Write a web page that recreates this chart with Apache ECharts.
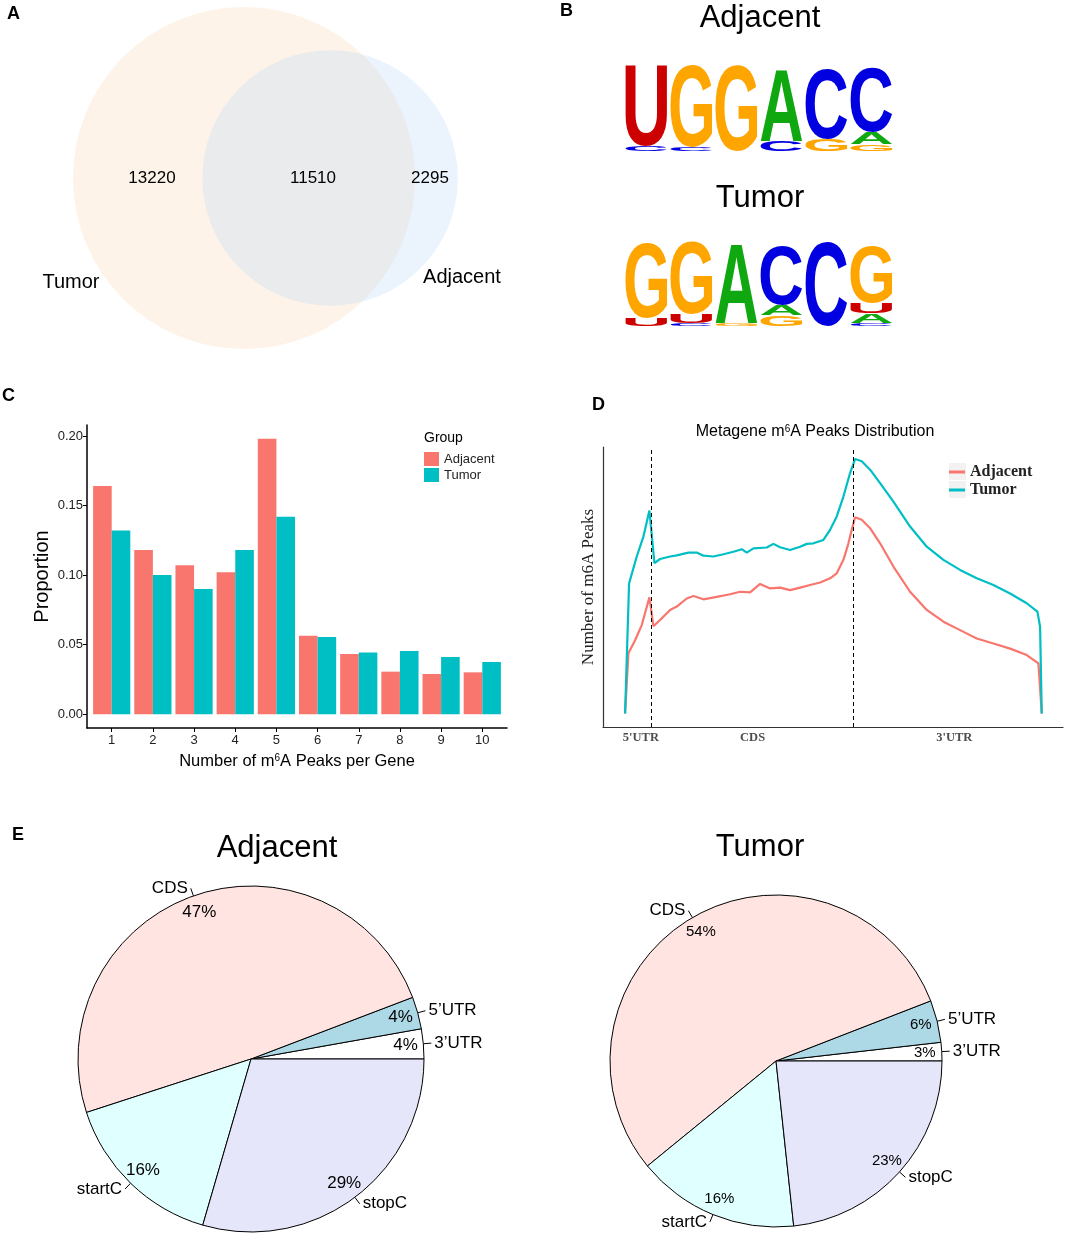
<!DOCTYPE html>
<html lang="en">
  <head>
    <meta charset="UTF-8" />
    <title>m6A peaks: Tumor vs Adjacent</title>
    <style>
      html, body { margin: 0; padding: 0; background: #fff; }
      #chart { width: 1065px; height: 1236px; }
    </style>
  </head>
  <body>
    <div id="chart"></div>

    <script src="https://cdn.jsdelivr.net/npm/echarts@6/dist/echarts.min.js"></script>
    <script>
      // ---- A: Venn counts ----
      const vennNames = ["Tumor", "Adjacent"];
      const tumorOnly = 13220;
      const bothSets = 11510;
      const adjacentOnly = 2295;

      // ---- B: motif logos, each position stacked bottom -> top [letter, height in bits] ----
      const adjacentMotif = [
        [["C", 0.10], ["U", 1.78]],
        [["C", 0.08], ["G", 1.81]],
        [["G", 1.91]],
        [["C", 0.22], ["A", 1.59]],
        [["G", 0.26], ["C", 1.56]],
        [["G", 0.15], ["A", 0.27], ["C", 1.44]]
      ];
      const tumorMotif = [
        [["U", 0.17], ["G", 1.68]],
        [["C", 0.06], ["U", 0.21], ["G", 1.60]],
        [["G", 0.06], ["A", 1.76]],
        [["G", 0.24], ["A", 0.24], ["C", 1.33]],
        [["C", 1.87]],
        [["C", 0.07], ["A", 0.21], ["U", 0.24], ["G", 1.26]]
      ];

      // ---- C: proportion of genes by number of peaks ----
      const peakCounts = [1, 2, 3, 4, 5, 6, 7, 8, 9, 10];
      const adjacentProp = [0.164, 0.118, 0.107, 0.102, 0.198, 0.0565, 0.0433, 0.0306, 0.0289, 0.0301];
      const tumorProp = [0.132, 0.100, 0.090, 0.118, 0.142, 0.0555, 0.0443, 0.0455, 0.0411, 0.0376];
      const proportionTicks = [0, 0.05, 0.1, 0.15, 0.2];

      // ---- D: metagene profile, x = relative position along transcript (0-100) ----
      const regionNames = ["5'UTR", "CDS", "3'UTR"];
      const regionLabelAt = [3.8, 30.6, 79];
      const regionBreaks = [6.24, 54.8];
      const tumorProfile = [
        [0, 4.8], [0.96, 51.3], [2.8, 60.9], [4.4, 68], [5.84, 77.3], [7.04, 58.5], [8.4, 60],
        [10.8, 60.9], [12.4, 61.3], [15.2, 62.3], [17.2, 62.3], [18.8, 61.2], [21.2, 60.9],
        [23.6, 61.7], [26, 62.6], [28, 63.5], [29.2, 62.3], [30.8, 63.8], [34, 64.1],
        [35.6, 65.4], [37.2, 64.2], [39.6, 63.2], [42, 64.4], [43.6, 65.4], [45.2, 65.6],
        [47.6, 66.8], [49.2, 70.4], [50.8, 75.2], [52.4, 82.3], [54, 90.7], [55.2, 95.7],
        [56.8, 94.9], [58.8, 91.9], [61.2, 87.1], [64.4, 80.5], [68.4, 71.6], [72.4, 64.4],
        [76.4, 59.7], [80.4, 56.1], [84.4, 53.1], [88.4, 50.7], [92.4, 47.7], [96.4, 44.2],
        [98.96, 41.2], [99.6, 35.8], [100, 4.8]
      ];
      const adjacentProfile = [
        [0, 4.8], [0.8, 26.3], [2.4, 31], [4, 36.4], [5.84, 46.3], [6.8, 36], [8.4, 38.2],
        [10.8, 41.8], [12.4, 43], [14.8, 45.9], [16.4, 46.8], [18.8, 45.6], [22, 46.5],
        [25.2, 47.4], [27.6, 48.3], [30, 48.1], [32.4, 51.1], [34.8, 49.5], [37.2, 49.8],
        [39.6, 48.9], [42, 49.8], [44.4, 50.7], [46.8, 51.6], [49.2, 53.1], [50.8, 54.9],
        [52.4, 59.7], [53.6, 65.6], [54.4, 70.4], [55.2, 74.9], [56.8, 74], [58.8, 71],
        [61.2, 65.6], [64.4, 57.3], [68.4, 48.3], [72.4, 41.8], [76.4, 37.6], [80.4, 34.6],
        [84.4, 31.6], [88.4, 29.8], [92.4, 28], [96.4, 25.7], [99.2, 22.7], [100, 4.8]
      ];

      // ---- E: peak location pies (R pie order, counter-clockwise from 3 o'clock) ----
      const pieNames = ["3’UTR", "5’UTR", "CDS", "startC", "stopC"];
      const pieColors = ["#ffffff", "#add8e6", "#ffe4e1", "#e0ffff", "#e6e6fa"];
      const adjacentShare = [2.8, 3.0, 49.2, 15.5, 29.5];
      const tumorShare = [1.8, 4.1, 55.0, 15.8, 23.3];
      const adjacentPctText = ["4%", "4%", "47%", "16%", "29%"];
      const tumorPctText = ["3%", "6%", "54%", "16%", "23%"];

      const SANS = "Liberation Sans";
      const SERIF = "Liberation Serif";
      const RED = "#F8766D";
      const TEAL = "#00BFC4";

      // Venn: area-proportional circles, center distance found by bisection
      function lensArea(r1, r2, d) {
        if (d >= r1 + r2) return 0;
        if (d <= Math.abs(r1 - r2)) return Math.PI * Math.min(r1, r2) ** 2;
        const a = r1 * r1 * Math.acos((d * d + r1 * r1 - r2 * r2) / (2 * d * r1));
        const b = r2 * r2 * Math.acos((d * d + r2 * r2 - r1 * r1) / (2 * d * r2));
        const c = 0.5 * Math.sqrt((-d + r1 + r2) * (d + r1 - r2) * (d - r1 + r2) * (d + r1 + r2));
        return a + b - c;
      }
      const tumorR = 171;
      const pxPerCount = (Math.PI * tumorR * tumorR) / (tumorOnly + bothSets);
      const adjacentR = Math.sqrt(((adjacentOnly + bothSets) * pxPerCount) / Math.PI);
      const targetLens = bothSets * pxPerCount;
      let lo = Math.abs(tumorR - adjacentR), hi = tumorR + adjacentR;
      for (let i = 0; i < 60; i++) {
        const mid = (lo + hi) / 2;
        if (lensArea(tumorR, adjacentR, mid) > targetLens) lo = mid; else hi = mid;
      }
      const centerGap = (lo + hi) / 2;
      const tumorCenter = [244, 178];

      // logo glyph boxes, measured on the same font the chart draws with
      const LETTERS = ["A", "C", "G", "U"];
      const LETTER_COLORS = { A: "#10a810", C: "#0000e0", G: "#ffa500", U: "#cc0000" };
      const measureCtx = document.createElement("canvas").getContext("2d");
      measureCtx.font = "bold 100px " + SANS;
      measureCtx.textBaseline = "middle";
      measureCtx.textAlign = "left";
      const glyph = {};
      LETTERS.forEach((ch) => {
        const m = measureCtx.measureText(ch);
        glyph[ch] = {
          l: m.actualBoundingBoxLeft, r: m.actualBoundingBoxRight,
          a: m.actualBoundingBoxAscent, d: m.actualBoundingBoxDescent
        };
      });

      function stackMotif(motif) {
        const out = [];
        motif.forEach((column, pos) => {
          let base = 0;
          column.forEach(([ch, h]) => {
            out.push([pos, base, base + h, LETTERS.indexOf(ch)]);
            base += h;
          });
        });
        return out;
      }

      function renderLetter(params, api) {
        const pos = api.value(0);
        const ch = LETTERS[api.value(3)];
        const bottom = api.coord([pos, api.value(1)]);
        const top = api.coord([pos, api.value(2)]);
        const w = api.size([1, 0])[0] * 0.93;
        const g = glyph[ch];
        const sx = w / (g.l + g.r);
        const sy = (bottom[1] - top[1]) / (g.a + g.d);
        return {
          type: "text",
          x: bottom[0] - w / 2 + sx * g.l,
          y: top[1] + sy * g.a,
          scaleX: sx,
          scaleY: sy,
          style: {
            text: ch, x: 0, y: 0, fill: LETTER_COLORS[ch],
            fontSize: 100, fontWeight: "bold", fontFamily: SANS,
            align: "left", verticalAlign: "middle"
          }
        };
      }

      function txt(text, x, y, size, extra) {
        return {
          type: "text", x: x, y: y, z: 100, silent: true,
          style: Object.assign({
            text: text, fontSize: size, fontFamily: SANS, fill: "#000",
            align: "center", verticalAlign: "middle",
            textAlign: "center", textVerticalAlign: "middle"
          }, extra || {})
        };
      }
      const leftTxt = { align: "left", textAlign: "left" };
      const boldLeft = { align: "left", textAlign: "left", fontWeight: "bold" };

      const pieBase = {
        type: "pie", startAngle: 0, clockwise: false, animation: false,
        emphasis: { disabled: true }, avoidLabelOverlap: false
      };
      function pieSeries(center, r, share, pctText, pctSize) {
        const data = pieNames.map((n, i) => ({ name: n, value: share[i], itemStyle: { color: pieColors[i] } }));
        return [
          Object.assign({}, pieBase, {
            center: center, radius: [0, r], data: data,
            itemStyle: { borderColor: "#000", borderWidth: 1 },
            label: { show: true, position: "outside", formatter: "{b}", fontSize: 17, color: "#000", fontFamily: SANS, distanceToLabelLine: 3 },
            labelLine: { show: true, length: 8, length2: 0, lineStyle: { color: "#000", width: 1 } }
          }),
          Object.assign({}, pieBase, {
            center: center, radius: [r * 0.76, r], silent: true,
            data: pieNames.map((n, i) => ({ name: n, value: share[i] })),
            itemStyle: { color: "rgba(0,0,0,0)", borderWidth: 0 },
            label: { show: true, position: "inside", formatter: (p) => pctText[p.dataIndex], fontSize: pctSize, color: "#000", fontFamily: SANS },
            labelLine: { show: false }
          })
        ];
      }

      const chart = echarts.init(document.getElementById("chart"));
      const option = {
        animation: false,
        backgroundColor: "#fff",
        textStyle: { fontFamily: SANS },
        grid: [
          { left: 0, top: 0, width: 540, height: 360 },
          { left: 624, top: 61, width: 270, height: 90 },
          { left: 624, top: 236, width: 270, height: 90 },
          { left: 87, top: 425, width: 420, height: 303 },
          { left: 603, top: 447, width: 460, height: 280 }
        ],
        xAxis: [
          { gridIndex: 0, type: "value", min: 0, max: 540, show: false },
          { gridIndex: 1, type: "category", data: adjacentMotif.map((c, i) => i + 1), show: false },
          { gridIndex: 2, type: "category", data: tumorMotif.map((c, i) => i + 1), show: false },
          {
            gridIndex: 3, type: "value", min: 0.4, max: 10.6,
            splitLine: { show: false },
            axisLine: { show: true, onZero: false, lineStyle: { color: "#000", width: 1.5 } },
            axisTick: { show: true, length: 4, customValues: peakCounts, lineStyle: { color: "#000" } },
            axisLabel: { customValues: peakCounts, fontSize: 13, color: "#222", margin: 6 },
            name: "Number of m{sup|6}A Peaks per Gene",
            nameLocation: "middle", nameGap: 25,
            nameTextStyle: { fontSize: 16.5, color: "#000", rich: { sup: { fontSize: 10, verticalAlign: "top" } } }
          },
          {
            gridIndex: 4, type: "value", min: -5.3, max: 105.1,
            splitLine: { show: false },
            axisLine: { show: true, onZero: false, lineStyle: { color: "#333", width: 1.2 } },
            axisTick: { show: false },
            axisLabel: {
              customValues: regionLabelAt, margin: 4,
              formatter: (v) => regionNames[regionLabelAt.indexOf(v)],
              fontFamily: SERIF, fontWeight: "bold", fontSize: 12.5, color: "#4d4d4d"
            }
          }
        ],
        yAxis: [
          { gridIndex: 0, type: "value", min: 0, max: 360, inverse: true, show: false },
          { gridIndex: 1, type: "value", min: 0, max: 2, show: false },
          { gridIndex: 2, type: "value", min: 0, max: 2, show: false },
          {
            gridIndex: 3, type: "value", min: -0.0099, max: 0.2079,
            splitLine: { show: false },
            axisLine: { show: true, onZero: false, lineStyle: { color: "#000", width: 1.5 } },
            axisTick: { show: true, length: 4, customValues: proportionTicks, lineStyle: { color: "#000" } },
            axisLabel: { customValues: proportionTicks, formatter: (v) => v.toFixed(2), fontSize: 13, color: "#222", margin: 4 },
            name: "Proportion", nameLocation: "middle", nameRotate: 90, nameGap: 35,
            nameTextStyle: { fontSize: 20, color: "#000" }
          },
          {
            gridIndex: 4, type: "value", min: 0, max: 100,
            splitLine: { show: false },
            axisLine: { show: true, onZero: false, lineStyle: { color: "#333", width: 1.2 } },
            axisTick: { show: false },
            axisLabel: { show: false },
            name: "Number of m6A Peaks", nameLocation: "middle", nameRotate: 90, nameGap: 6,
            nameTextStyle: { fontFamily: SERIF, fontSize: 17, color: "#222" }
          }
        ],
        legend: [
          {
            data: ["Adjacent", "Tumor"], orient: "vertical", left: 424, top: 452, padding: 0,
            icon: "rect", itemWidth: 15, itemHeight: 14, itemGap: 2, selectedMode: false,
            textStyle: { fontSize: 13, color: "#222", fontFamily: SANS }
          },
          {
            data: [
              { name: "Adjacent", itemStyle: { color: RED } },
              { name: "Tumor", itemStyle: { color: TEAL } }
            ],
            orient: "vertical", left: 949, top: 464, padding: 0, z: 10,
            icon: "rect", itemWidth: 16, itemHeight: 3, itemGap: 2, selectedMode: false,
            textStyle: { fontSize: 16, color: "#222", fontFamily: SERIF, fontWeight: "bold" }
          }
        ],
        graphic: [
          { type: "rect", z: 1, silent: true, shape: { x: 949, y: 463, width: 17, height: 17 }, style: { fill: "#f2f2f2" } },
          { type: "rect", z: 1, silent: true, shape: { x: 949, y: 481, width: 17, height: 17 }, style: { fill: "#f2f2f2" } },
          txt("A", 7, 14, 18, boldLeft),
          txt("B", 560, 11, 18, boldLeft),
          txt("C", 2, 396, 18, boldLeft),
          txt("D", 592, 405, 18, boldLeft),
          txt("E", 12, 835, 18, boldLeft),
          txt(String(tumorOnly), 152, 178, 17),
          txt(String(bothSets), 313, 178, 17),
          txt(String(adjacentOnly), 430, 178, 17),
          txt(vennNames[0], 71, 282, 20),
          txt(vennNames[1], 462, 277, 20),
          txt("Adjacent", 760, 18, 31),
          txt("Tumor", 760, 198, 31),
          txt("Group", 424, 438, 14, leftTxt),
          txt("Metagene m{sup|6}A Peaks Distribution", 815, 432, 16, { rich: { sup: { fontSize: 10, verticalAlign: "top" } } }),
          txt("Adjacent", 277, 848, 31),
          txt("Tumor", 760, 847, 31)
        ],
        series: [
          {
            type: "bar", name: "Adjacent", xAxisIndex: 3, yAxisIndex: 3,
            data: peakCounts.map((k, i) => [k, adjacentProp[i]]),
            barWidth: 18.6, barGap: "0%", itemStyle: { color: RED }
          },
          {
            type: "bar", name: "Tumor", xAxisIndex: 3, yAxisIndex: 3,
            data: peakCounts.map((k, i) => [k, tumorProp[i]]),
            barWidth: 18.6, barGap: "0%", itemStyle: { color: TEAL }
          },
          {
            type: "scatter", xAxisIndex: 0, yAxisIndex: 0, silent: true, z: 1,
            data: [
              { value: tumorCenter, symbolSize: 2 * tumorR, itemStyle: { color: "#fdf0e3" } },
              { value: [tumorCenter[0] + centerGap, tumorCenter[1]], symbolSize: 2 * adjacentR, itemStyle: { color: "rgba(172,208,245,0.3)" } }
            ]
          },
          {
            type: "custom", xAxisIndex: 1, yAxisIndex: 1, silent: true,
            renderItem: renderLetter, data: stackMotif(adjacentMotif)
          },
          {
            type: "custom", xAxisIndex: 2, yAxisIndex: 2, silent: true,
            renderItem: renderLetter, data: stackMotif(tumorMotif)
          },
          {
            type: "line", name: "Adjacent", xAxisIndex: 4, yAxisIndex: 4,
            data: adjacentProfile, showSymbol: false, lineStyle: { color: RED, width: 2.2 }, itemStyle: { color: RED }
          },
          {
            type: "line", name: "Tumor", xAxisIndex: 4, yAxisIndex: 4,
            data: tumorProfile, showSymbol: false, lineStyle: { color: TEAL, width: 2.2 }, itemStyle: { color: TEAL },
            markLine: {
              silent: true, symbol: "none", label: { show: false },
              lineStyle: { color: "#000", width: 1, type: [4, 3] },
              data: regionBreaks.map((x) => ({ xAxis: x }))
            }
          }
        ].concat(
          pieSeries([251, 1059], 173, adjacentShare, adjacentPctText, 17),
          pieSeries([776, 1061], 166, tumorShare, tumorPctText, 15)
        )
      };
      chart.setOption(option);
    </script>
  </body>
</html>
